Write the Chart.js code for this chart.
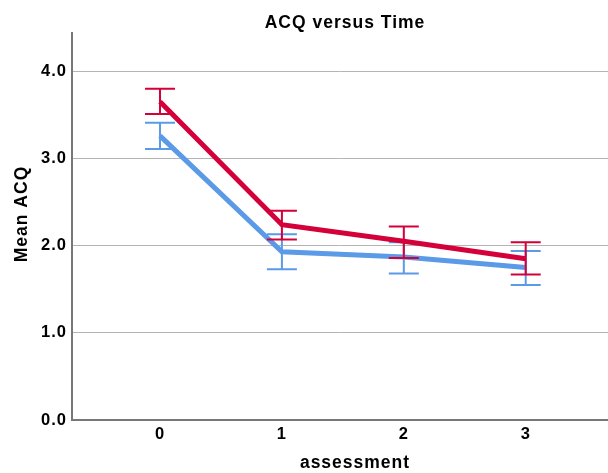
<!DOCTYPE html>
<html>
<head>
<meta charset="utf-8">
<script src="https://cdn.jsdelivr.net/npm/chart.js@4/dist/chart.umd.min.js"></script>
<style>
  html, body { margin: 0; padding: 0; background: #ffffff; }
  #wrap { width: 608px; height: 473px; }
</style>
</head>
<body>
<div id="wrap"><canvas id="c" width="608" height="473"></canvas></div>
<script>
// ---- data ----
const chartTitle = "ACQ versus Time";
const xTitle = "assessment";
const yTitle = "Mean ACQ";
const assessments = [0, 1, 2, 3];
const yTicks = [0, 1, 2, 3, 4];

const redMean  = [3.65, 2.24, 2.05, 1.85];
const redUpper = [3.80, 2.40, 2.22, 2.04];
const redLower = [3.51, 2.07, 1.86, 1.67];

const blueMean  = [3.26, 1.93, 1.87, 1.75];
const blueUpper = [3.41, 2.13, 2.04, 1.94];
const blueLower = [3.11, 1.73, 1.68, 1.55];

// ---- styling ----
const FONT = '"Liberation Sans", Arial, Helvetica, sans-serif';
const RED = '#d4003a';
const BLUE = '#5b9ae6';
const SPACING = '1px';

const toPoints = (xs, ys) => xs.map((x, i) => ({ x: x, y: ys[i] }));

const errorBars = {
  id: 'errorBars',
  afterDatasetDraw(chart, args) {
    const ds = chart.data.datasets[args.index];
    if (!ds.errUpper) return;
    const ctx = chart.ctx;
    const xs = chart.scales.x, ys = chart.scales.y;
    ctx.save();
    ctx.strokeStyle = ds.errColor;
    ctx.lineWidth = 2;
    ds.data.forEach((p, i) => {
      const x = xs.getPixelForValue(p.x);
      const yt = ys.getPixelForValue(ds.errUpper[i]);
      const yb = ys.getPixelForValue(ds.errLower[i]);
      ctx.beginPath();
      ctx.moveTo(x, yt); ctx.lineTo(x, yb);
      ctx.moveTo(x - 15, yt); ctx.lineTo(x + 15, yt);
      ctx.moveTo(x - 15, yb); ctx.lineTo(x + 15, yb);
      ctx.stroke();
    });
    ctx.restore();
  }
};

const spacingPlugin = {
  id: 'spacing',
  beforeUpdate(chart) { chart.ctx.letterSpacing = SPACING; },
  beforeLayout(chart) { chart.ctx.letterSpacing = SPACING; },
  beforeDraw(chart) { chart.ctx.letterSpacing = SPACING; }
};

const textLabels = {
  id: 'textLabels',
  afterDraw(chart) {
    const ctx = chart.ctx;
    ctx.save();
    ctx.letterSpacing = SPACING;
    ctx.fillStyle = '#000000';
    ctx.textAlign = 'center';
    ctx.textBaseline = 'alphabetic';
    ctx.font = 'bold 17.5px ' + FONT;
    ctx.fillText(chartTitle, 345, 28);
    ctx.font = 'bold 17.5px ' + FONT;
    ctx.fillText(xTitle, 355, 468);
    ctx.translate(27, 214);
    ctx.rotate(-Math.PI / 2);
    ctx.fillText(yTitle, 0, 0);
    ctx.restore();
  }
};

new Chart(document.getElementById('c'), {
  type: 'line',
  data: {
    datasets: [
      {
        label: 'red',
        data: toPoints(assessments, redMean),
        borderColor: RED,
        backgroundColor: RED,
        borderWidth: 5,
        pointRadius: 0,
        tension: 0,
        errUpper: redUpper,
        errLower: redLower,
        errColor: RED,
        order: 0
      },
      {
        label: 'blue',
        data: toPoints(assessments, blueMean),
        borderColor: BLUE,
        backgroundColor: BLUE,
        borderWidth: 5,
        pointRadius: 0,
        tension: 0,
        errUpper: blueUpper,
        errLower: blueLower,
        errColor: BLUE,
        order: 1
      }
    ]
  },
  options: {
    responsive: false,
    animation: false,
    devicePixelRatio: 1,
    layout: { padding: { top: 33 } },
    plugins: {
      legend: { display: false },
      tooltip: { enabled: false },
      title: { display: false }
    },
    scales: {
      x: {
        type: 'linear',
        min: -0.722,
        max: 3.675,
        grid: { display: false, drawTicks: false },
        border: { display: true, color: '#777777', width: 2 },
        ticks: {
          stepSize: 1,
          includeBounds: false,
          padding: 5,
          color: '#000000',
          font: { family: FONT, size: 16.5, weight: 'bold' },
          callback: (v) => assessments.includes(v) ? String(v) : ''
        },
        afterFit: (s) => { s.height = 53; }
      },
      y: {
        type: 'linear',
        min: 0,
        max: 4.44,
        grid: { display: true, color: '#b4b4b4', lineWidth: 1, drawTicks: false },
        border: { display: true, color: '#777777', width: 2 },
        ticks: {
          stepSize: 1,
          includeBounds: false,
          padding: 5,
          color: '#000000',
          font: { family: FONT, size: 16.5, weight: 'bold' },
          callback: (v) => yTicks.includes(v) ? v.toFixed(1) : ''
        },
        afterFit: (s) => { s.width = 72; }
      }
    }
  },
  plugins: [spacingPlugin, errorBars, textLabels]
});
</script>
</body>
</html>
